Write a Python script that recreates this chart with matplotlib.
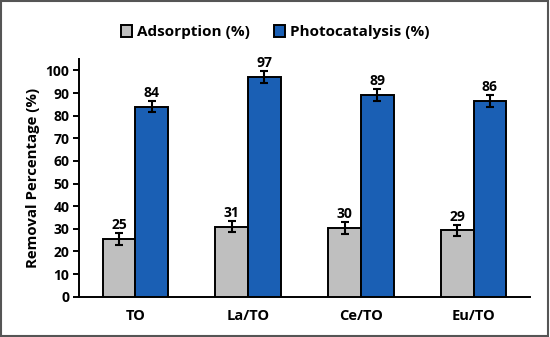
import matplotlib.pyplot as plt
import numpy as np
from matplotlib.patches import Rectangle

categories = ["TO", "La/TO", "Ce/TO", "Eu/TO"]
adsorption = [25.5, 31.0, 30.5, 29.3]
photocatalysis = [84.0, 97.0, 89.0, 86.5]
adsorption_err = [2.5, 2.6, 2.6, 2.4]
photocatalysis_err = [2.4, 2.6, 2.6, 2.6]
adsorption_labels = ["25", "31", "30", "29"]
photocatalysis_labels = ["84", "97", "89", "86"]

plt.rcParams['font.family'] = ['Open Sans', 'DejaVu Sans']
plt.rcParams['font.weight'] = 'bold'

fig = plt.figure(figsize=(5.5, 3.37), dpi=100)
ax = fig.add_axes([0.1436, 0.1196, 0.82, 0.705])

x = np.arange(len(categories))
w = 0.29
gray = "#BFBFBF"
blue = "#1A5FB4"

b1 = ax.bar(x - w / 2, adsorption, w, color=gray, edgecolor="black", linewidth=1.4,
            yerr=adsorption_err, error_kw=dict(elinewidth=1.5, capsize=3, capthick=1.5),
            label="Adsorption (%)", zorder=3)
b2 = ax.bar(x + w / 2, photocatalysis, w, color=blue, edgecolor="black", linewidth=1.4,
            yerr=photocatalysis_err, error_kw=dict(elinewidth=1.5, capsize=3, capthick=1.5),
            label="Photocatalysis (%)", zorder=3)

for xi, v, e, lab in zip(x - w / 2, adsorption, adsorption_err, adsorption_labels):
    ax.text(xi, v + e + 0.5, lab, ha="center", va="bottom", fontsize=10, fontweight="bold")
for xi, v, e, lab in zip(x + w / 2, photocatalysis, photocatalysis_err, photocatalysis_labels):
    ax.text(xi, v + e + 0.5, lab, ha="center", va="bottom", fontsize=10, fontweight="bold")

ax.set_xlim(-0.5, len(categories) - 0.5)
ax.set_ylim(0, 105)
ax.set_yticks(range(0, 101, 10))
ax.set_xticks(x)
ax.set_xticklabels(categories, fontsize=10.5, fontweight="bold")
ax.tick_params(axis="x", length=0, pad=9)
ax.tick_params(axis="y", length=4, width=1.4, labelsize=10, pad=3)
for lab in ax.get_yticklabels():
    lab.set_fontweight("bold")
ax.spines["top"].set_visible(False)
ax.spines["right"].set_visible(False)
ax.spines["left"].set_linewidth(1.4)
ax.spines["bottom"].set_linewidth(1.4)
ax.set_ylabel("Removal Percentage (%)", fontsize=10.8, fontweight="bold", labelpad=4)

fig.legend(handles=[b1, b2], loc="center", bbox_to_anchor=(0.5, 0.905), ncol=2, frameon=False,
           handlelength=0.75, handleheight=0.8, handletextpad=0.3, columnspacing=1.6,
           prop=dict(weight="bold", size=11))

fig.patches.append(Rectangle((0.002, 0.003), 0.995, 0.994, transform=fig.transFigure,
                             fill=False, edgecolor="#555555", linewidth=1.5))

fig.savefig("out.png", dpi=100)
